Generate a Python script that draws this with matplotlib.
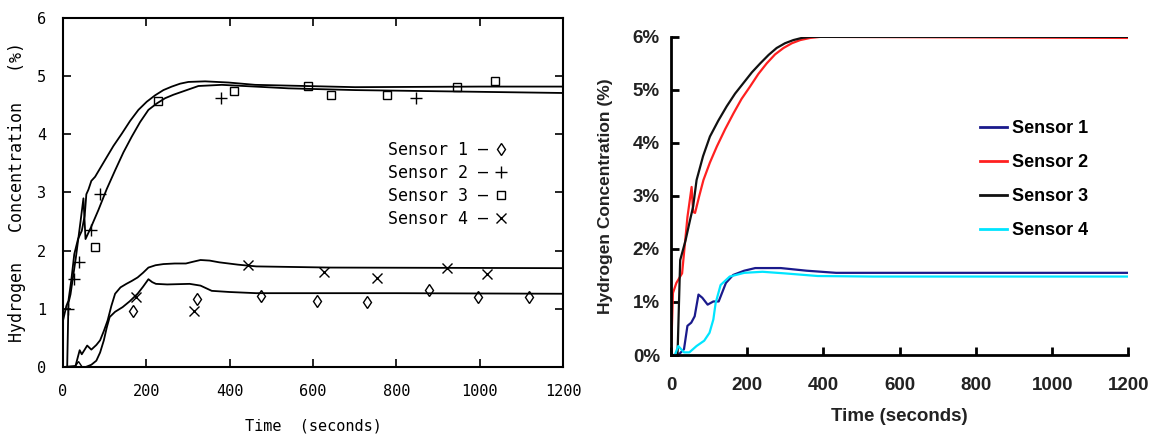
import matplotlib
matplotlib.use("Agg")
import matplotlib.pyplot as plt
from matplotlib.lines import Line2D

# ---- left panel (model vs measured) ----
# upper model curves (sensor 3 / sensor 2 lines)
l_up_a_t = [0, 8, 13, 20, 27, 36, 45, 52, 56, 61, 68, 77, 101, 121, 141, 161, 181, 201, 221, 241, 261, 281, 301, 341, 397, 461, 701, 1000, 1200]
l_up_a_y = [0.8, 1.05, 1.14, 1.5, 1.94, 2.2, 2.34, 2.6, 2.97, 3.05, 3.2, 3.27, 3.56, 3.8, 4.01, 4.23, 4.42, 4.56, 4.67, 4.76, 4.82, 4.87, 4.9, 4.91, 4.89, 4.85, 4.81, 4.82, 4.82]
l_up_b_t = [10, 13, 18, 31, 42, 49, 54, 67, 85, 105, 125, 145, 165, 185, 205, 225, 245, 265, 285, 325, 381, 541, 701, 900, 1200]
l_up_b_y = [0.0, 1.1, 1.25, 1.89, 2.5, 2.9, 2.2, 2.4, 2.7, 3.06, 3.38, 3.69, 3.96, 4.21, 4.42, 4.53, 4.62, 4.68, 4.73, 4.83, 4.85, 4.79, 4.76, 4.74, 4.71]
# lower model curves (sensor 4 / sensor 1 lines)
l_lo_a_t = [0, 30, 40, 45, 52, 58, 68, 80, 89, 98, 107, 116, 125, 138, 152, 165, 179, 192, 205, 222, 241, 268, 295, 312, 330, 352, 375, 420, 464, 643, 1200]
l_lo_a_y = [0.0, 0.02, 0.29, 0.22, 0.3, 0.37, 0.3, 0.38, 0.46, 0.62, 0.8, 1.05, 1.26, 1.37, 1.43, 1.48, 1.54, 1.62, 1.71, 1.75, 1.77, 1.78, 1.78, 1.81, 1.84, 1.83, 1.8, 1.76, 1.73, 1.71, 1.7]
l_lo_b_t = [0, 54, 68, 80, 89, 98, 105, 112, 125, 143, 160, 179, 192, 205, 214, 223, 250, 304, 330, 345, 357, 400, 464, 800, 1200]
l_lo_b_y = [0.0, 0.0, 0.04, 0.11, 0.25, 0.46, 0.68, 0.86, 0.95, 1.03, 1.13, 1.26, 1.38, 1.51, 1.46, 1.43, 1.42, 1.43, 1.4, 1.35, 1.31, 1.29, 1.27, 1.27, 1.26]

# measured points
s1_t = [37, 167, 321, 475, 609, 729, 879, 995, 1118]
s1_y = [0.0, 0.97, 1.17, 1.23, 1.14, 1.11, 1.33, 1.21, 1.21]
s2_t = [13, 27, 38, 67, 89, 380, 848]
s2_y = [1.0, 1.51, 1.8, 2.35, 2.97, 4.63, 4.62]
s3_t = [76, 228, 411, 587, 643, 777, 946, 1038]
s3_y = [2.06, 4.57, 4.74, 4.83, 4.67, 4.67, 4.81, 4.91]
s4_t = [176, 315, 443, 626, 754, 921, 1018]
s4_y = [1.2, 0.96, 1.75, 1.63, 1.53, 1.7, 1.6]

# ---- right panel (simulation) ----
r1_t = [0, 19, 34, 43, 53, 62, 72, 82, 96, 111, 125, 144, 163, 192, 221, 288, 356, 433, 1200]
r1_y = [0, 0, 0.11, 0.55, 0.61, 0.73, 1.14, 1.08, 0.95, 1.01, 1.01, 1.36, 1.51, 1.59, 1.64, 1.64, 1.59, 1.55, 1.55]
r2_t = [0, 5, 14, 29, 43, 54, 58, 63, 74, 85, 102, 120, 142, 164, 185, 207, 229, 251, 273, 295, 317, 339, 365, 391, 1200]
r2_y = [0, 1.17, 1.36, 1.54, 2.6, 3.17, 2.7, 2.68, 3.0, 3.3, 3.63, 3.93, 4.26, 4.56, 4.83, 5.06, 5.3, 5.5, 5.67, 5.79, 5.88, 5.94, 5.98, 6.0, 5.98]
r3_t = [17, 24, 38, 50, 58, 67, 84, 102, 124, 146, 168, 190, 212, 234, 256, 277, 299, 321, 343, 365, 1200]
r3_y = [0, 1.79, 2.16, 2.55, 2.8, 3.3, 3.75, 4.12, 4.42, 4.69, 4.93, 5.13, 5.33, 5.5, 5.66, 5.79, 5.88, 5.94, 5.98, 6.0, 6.0]
r4_t = [10, 19, 34, 48, 67, 87, 101, 111, 117, 130, 154, 192, 240, 298, 385, 529, 1200]
r4_y = [0, 0.17, 0.05, 0.05, 0.17, 0.27, 0.42, 0.67, 0.98, 1.32, 1.48, 1.55, 1.57, 1.54, 1.49, 1.48, 1.48]

sensor_names = ["Sensor 1", "Sensor 2", "Sensor 3", "Sensor 4"]
r_colors = ["#1a1a8c", "#ff2020", "#111111", "#00e5ff"]

fig = plt.figure(figsize=(11.52, 4.37), dpi=100)

# left: scanned plotter style
mono = "DejaVu Sans Mono"
ax1 = fig.add_axes([0.0547, 0.160, 0.434, 0.799])
for t, y in [(l_up_a_t, l_up_a_y), (l_up_b_t, l_up_b_y), (l_lo_a_t, l_lo_a_y), (l_lo_b_t, l_lo_b_y)]:
    ax1.plot(t, y, color="black", lw=1.3)
mk = dict(color="black", ls="none", mfc="none", mew=1.0)
ax1.plot(s1_t, s1_y, marker="d", ms=6, **mk)
ax1.plot(s2_t, s2_y, marker="+", ms=8, **mk)
ax1.plot(s3_t, s3_y, marker="s", ms=6, **mk)
ax1.plot(s4_t, s4_y, marker="x", ms=7, **mk)
ax1.set_xlim(0, 1200)
ax1.set_ylim(0, 6)
ax1.set_xticks(range(0, 1201, 200))
ax1.set_yticks(range(0, 7))
ax1.tick_params(direction="in", length=6, width=1.2, top=True, right=True,
                labelsize=11, pad=12)
for lab in ax1.get_xticklabels() + ax1.get_yticklabels():
    lab.set_family(mono)
for s in ax1.spines.values():
    s.set_linewidth(1.5)
ax1.set_xlabel("Time  (seconds)", family=mono, fontsize=11, labelpad=14)
ax1.set_ylabel("Hydrogen   Concentration   (%)", family=mono, fontsize=12, labelpad=8)
h1 = [Line2D([], [], marker=m, ms=s, **mk) for m, s in zip(["d", "+", "s", "x"], [6, 8, 6, 7])]
ax1.legend(h1, [n + " \u2013" for n in sensor_names], markerfirst=False, frameon=False,
           loc="upper left", bbox_to_anchor=(0.62, 0.69), prop={"family": mono, "size": 12},
           handlelength=0.8, handletextpad=0.4, labelspacing=0.3)

# right: simulation
ax2 = fig.add_axes([0.5825, 0.1876, 0.397, 0.728])
for t, y, c in zip([r1_t, r2_t, r3_t, r4_t], [r1_y, r2_y, r3_y, r4_y], r_colors):
    ax2.plot(t, y, color=c, lw=1.6)
ax2.set_xlim(0, 1200)
ax2.set_ylim(0, 6)
ax2.set_xticks(range(0, 1201, 200))
ax2.set_yticks(range(0, 7))
ax2.set_yticklabels([f"{v}%" for v in range(0, 7)])
ax2.spines["top"].set_visible(False)
ax2.spines["right"].set_visible(False)
for s in ("left", "bottom"):
    ax2.spines[s].set_linewidth(2)
ax2.tick_params(direction="in", length=6, width=2, labelsize=13.5, pad=8)
ax2.tick_params(axis="x", pad=16)
for lab in ax2.get_xticklabels() + ax2.get_yticklabels():
    lab.set_family("Liberation Sans")
    lab.set_weight("bold")
    lab.set_color("#222222")
ax2.set_xlabel("Time (seconds)", family="Liberation Sans", weight="bold", fontsize=13.5,
               color="#222222", labelpad=10)
ax2.set_ylabel("Hydrogen Concentration (%)", family="Liberation Sans", weight="bold", fontsize=12.5,
               color="#222222", labelpad=14)
h2 = [Line2D([], [], color=c, lw=2) for c in r_colors]
ax2.legend(h2, sensor_names, frameon=False, loc="upper left", bbox_to_anchor=(0.64, 0.79),
           prop={"family": "Liberation Sans", "weight": "bold", "size": 13},
           handlelength=1.5, handletextpad=0.3, labelspacing=0.95)

fig.savefig("out.png", dpi=100)
